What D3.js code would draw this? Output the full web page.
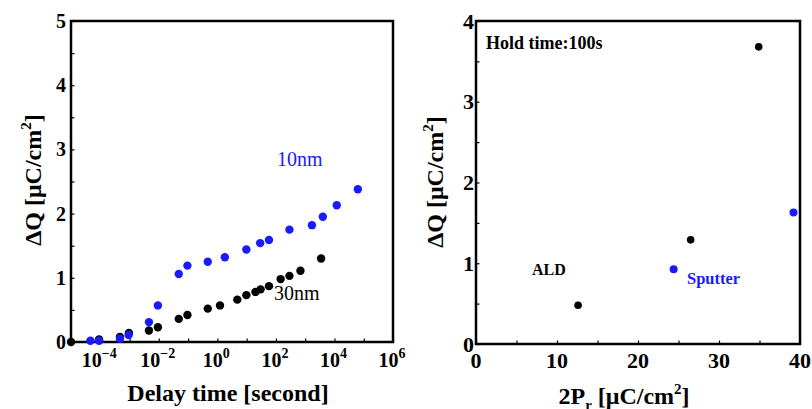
<!DOCTYPE html>
<html>
<head>
<meta charset="utf-8">
<script src="https://cdn.jsdelivr.net/npm/d3@7"></script>
<style>
  html, body { margin: 0; padding: 0; background: #fff; }
  svg { display: block; font-family: "Liberation Serif", "Times New Roman", serif; }
</style>
</head>
<body>
<svg width="812" height="409"></svg>
<script>
// left panel: delay time (s) vs dQ
const blueTime = [4.6e-5, 9.1e-5, 4.7e-4, 9.3e-4, 4.6e-3, 9.3e-3, 0.048, 0.095, 0.47, 1.8, 9.8, 29, 58, 290, 1700, 4000, 12000, 63000];
const blueDQ = [0.02, 0.02, 0.05, 0.11, 0.31, 0.57, 1.06, 1.19, 1.25, 1.32, 1.44, 1.54, 1.59, 1.75, 1.82, 1.95, 2.13, 2.38];
const blackTime = [1e-5, 9.1e-5, 4.7e-4, 9.5e-4, 4.6e-3, 9.3e-3, 0.048, 0.095, 0.47, 1.23, 4.8, 9.8, 20, 30, 58, 145, 290, 690, 3500];
const blackDQ = [0, 0.04, 0.08, 0.14, 0.18, 0.23, 0.36, 0.42, 0.52, 0.57, 0.66, 0.73, 0.78, 0.82, 0.87, 0.98, 1.03, 1.11, 1.30];
const leftXTicks = [-4, -2, 0, 2, 4, 6];
const leftYTicks = [0, 1, 2, 3, 4, 5];

// right panel: 2Pr vs dQ at 100 s hold
const aldPr = [12.6, 26.5, 34.9];
const aldDQ = [0.48, 1.29, 3.68];
const sputPr = [24.4, 39.2];
const sputDQ = [0.925, 1.63];
const rightXTicks = [0, 10, 20, 30, 40];
const rightYTicks = [0, 1, 2, 3, 4];

const BLUE = "#1a1aff";
const svg = d3.select("svg");

// scales
const x1 = d3.scaleLog().domain([1e-5, 1e6]).range([71, 393]);
const y1 = d3.scaleLinear().domain([0, 5]).range([342, 21]);
const x2 = d3.scaleLinear().domain([0, 40]).range([476, 800]);
const y2 = d3.scaleLinear().domain([0, 4]).range([344, 21]);

// inward ticks, labels drawn by hand below
const decades = d3.range(-5, 7).map(e => Math.pow(10, e));
svg.append("g")
    .attr("transform", `translate(0,${y1(0)})`)
    .call(d3.axisBottom(x1).tickValues(decades).tickSize(-3.5).tickSizeOuter(0).tickFormat(() => ""));
svg.append("g")
    .attr("transform", `translate(${x1(1e-5)},0)`)
    .call(d3.axisLeft(y1).tickValues(d3.range(0, 5.01, 0.5)).tickSize(-3.5).tickSizeOuter(0).tickFormat(() => ""));
svg.append("g")
    .attr("transform", `translate(0,${y2(0)})`)
    .call(d3.axisBottom(x2).tickValues(d3.range(0, 40.1, 5)).tickSize(-3.5).tickSizeOuter(0).tickFormat(() => ""));
svg.append("g")
    .attr("transform", `translate(${x2(0)},0)`)
    .call(d3.axisLeft(y2).tickValues(d3.range(0, 4.01, 0.5)).tickSize(-3.5).tickSizeOuter(0).tickFormat(() => ""));

svg.selectAll(".domain").remove();
svg.selectAll(".tick line").attr("stroke", "#000").attr("stroke-width", 1.2);

// frames
svg.append("rect")
    .attr("x", x1.range()[0]).attr("y", y1(5))
    .attr("width", x1.range()[1] - x1.range()[0]).attr("height", y1(0) - y1(5))
    .attr("fill", "none").attr("stroke", "#000").attr("stroke-width", 2.5);
svg.append("rect")
    .attr("x", x2(0)).attr("y", y2(4))
    .attr("width", x2(40) - x2(0)).attr("height", y2(0) - y2(4))
    .attr("fill", "none").attr("stroke", "#000").attr("stroke-width", 2.5);

// tick labels, left
const lx = svg.append("g").attr("font-weight", "bold").attr("font-size", 20).attr("text-anchor", "middle");
leftXTicks.forEach(e => {
  const t = lx.append("text").attr("x", x1(Math.pow(10, e)) - 1).attr("y", 367);
  t.append("tspan").text("10");
  t.append("tspan").attr("dy", -9).attr("font-size", 14).text(e < 0 ? "\u2212" + (-e) : e);
});
svg.append("g").attr("font-weight", "bold").attr("font-size", 20).attr("text-anchor", "end")
  .selectAll("text").data(leftYTicks).join("text")
    .attr("x", 66).attr("y", d => y1(d)).attr("dy", "0.35em").text(d => d);

// tick labels, right
svg.append("g").attr("font-weight", "bold").attr("font-size", 22).attr("text-anchor", "middle")
  .selectAll("text").data(rightXTicks).join("text")
    .attr("x", d => x2(d)).attr("y", 368).text(d => d);
svg.append("g").attr("font-weight", "bold").attr("font-size", 22).attr("text-anchor", "end")
  .selectAll("text").data(rightYTicks).join("text")
    .attr("x", 474).attr("y", d => y2(d)).attr("dy", "0.35em").text(d => d);

// axis titles
const yTitle = (x, y) => {
  const t = svg.append("text")
      .attr("transform", `translate(${x},${y}) rotate(-90)`)
      .attr("text-anchor", "middle").attr("font-weight", "bold").attr("font-size", 24);
  t.append("tspan").text("\u0394Q [\u03bcC/cm");
  t.append("tspan").attr("dy", -10).attr("font-size", 15).text("2");
  t.append("tspan").attr("dy", 10).text("]");
};
yTitle(41, 180);
yTitle(443, 182);

svg.append("text")
    .attr("x", 228).attr("y", 401)
    .attr("text-anchor", "middle").attr("font-weight", "bold").attr("font-size", 24)
    .text("Delay time [second]");

const xt = svg.append("text")
    .attr("x", 624).attr("y", 404)
    .attr("text-anchor", "middle").attr("font-weight", "bold").attr("font-size", 24);
xt.append("tspan").text("2P");
xt.append("tspan").attr("dy", 6).attr("font-size", 15).text("r");
xt.append("tspan").attr("dy", -6).text(" [\u03bcC/cm");
xt.append("tspan").attr("dy", -10).attr("font-size", 15).text("2");
xt.append("tspan").attr("dy", 10).text("]");

// points, left
const left = svg.append("g");
left.selectAll("circle.k").data(blackTime).join("circle")
    .attr("class", "k")
    .attr("cx", d => x1(d)).attr("cy", (d, i) => y1(blackDQ[i])).attr("r", 4.2)
    .attr("fill", "#000");
left.selectAll("circle.b").data(blueTime).join("circle")
    .attr("class", "b")
    .attr("cx", d => x1(d)).attr("cy", (d, i) => y1(blueDQ[i])).attr("r", 4.2)
    .attr("fill", BLUE);

svg.append("text").attr("x", 277).attr("y", 166).attr("font-size", 20).attr("fill", BLUE).text("10nm");
svg.append("text").attr("x", 274).attr("y", 300).attr("font-size", 20).attr("fill", "#000").text("30nm");

// points, right
const right = svg.append("g");
right.selectAll("circle.k").data(aldPr).join("circle")
    .attr("class", "k")
    .attr("cx", d => x2(d)).attr("cy", (d, i) => y2(aldDQ[i])).attr("r", 3.8)
    .attr("fill", "#000");
right.selectAll("circle.b").data(sputPr).join("circle")
    .attr("class", "b")
    .attr("cx", d => x2(d)).attr("cy", (d, i) => y2(sputDQ[i])).attr("r", 4)
    .attr("fill", BLUE);

svg.append("text").attr("x", 486).attr("y", 49).attr("font-weight", "bold").attr("font-size", 18).text("Hold time:100s");
svg.append("text").attr("x", 532).attr("y", 275).attr("font-weight", "bold").attr("font-size", 16).text("ALD");
svg.append("text").attr("x", 687).attr("y", 284).attr("font-weight", "bold").attr("font-size", 16.5).attr("fill", BLUE).text("Sputter");
</script>
</body>
</html>
